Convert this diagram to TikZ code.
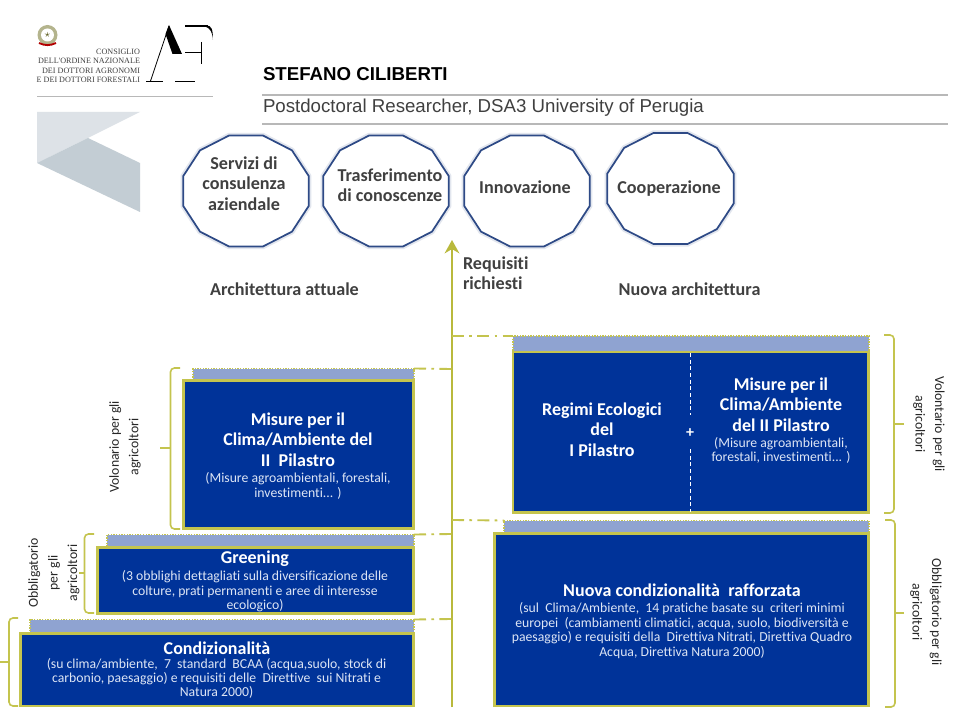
\documentclass[tikz,border=0pt]{standalone}
\usepackage{fontspec}
\setmainfont{Carlito}[Ligatures=CommonOff]
\newfontfamily\headfont{Liberation Sans}
\newfontfamily\logofont{Liberation Serif}
\usetikzlibrary{arrows.meta,shapes.geometric}
\definecolor{boxblue}{HTML}{003399}
\definecolor{bandblue}{HTML}{8FA3D1}
\definecolor{olive}{HTML}{C4C44E}
\definecolor{axisolive}{HTML}{B9B93C}
\definecolor{ink}{HTML}{404040}
\definecolor{subtxt}{HTML}{DDE5F5}
\definecolor{ringblue}{HTML}{2E4A86}
\definecolor{wedgelight}{HTML}{DDE2E7}
\definecolor{wedgedark}{HTML}{C3CDD4}
\newcommand{\fsz}[2]{\fontsize{#1}{#2}\selectfont}
\tikzset{
  x=0.75pt,y=-0.75pt,
  every node/.style={inner sep=0pt,outer sep=0pt},
  mainbox/.style={draw=olive,line width=2pt,fill=boxblue},
  bandbox/.style={draw=olive,densely dotted,line width=1pt,fill=bandblue},
  boxtitle/.style={text=white,align=center,font=\bfseries\fsz{13.5}{15.3}},
  boxbody/.style={text=subtxt,align=center,font=\fsz{10.3}{10.9}},
  boxbodytight/.style={text=subtxt,align=center,font=\fsz{10.3}{10.2}},
  toplabel/.style={text=ink,align=center,font=\bfseries\fsz{13.6}{15.3}},
  sidelabel/.style={text=black!85,align=center,font=\fsz{10.3}{14.7}},
  ring/.style={draw=ringblue,line width=1.3pt,fill=white,line join=round},
  ringglow/.style={draw=ringblue!14,line width=4pt,line join=round},
  axisline/.style={draw=axisolive,line width=2pt},
  dashlink/.style={draw=olive,line width=1.4pt,dash pattern=on 9pt off 4pt on 2pt off 4pt},
  bracket/.style={draw=olive,line width=1.2pt,rounded corners=3pt},
  rule/.style={draw=black!28,line width=1.3pt},
  logotxt/.style={text=black!75,align=right,anchor=east,font=\logofont\fsz{6.1}{6.9}},
}
\newcommand{\rectnode}[6]{%
  \pgfmathsetmacro{\rw}{(#4-#2)*0.75}\pgfmathsetmacro{\rh}{(#5-#3)*0.75}%
  \node[#6,minimum width=\rw pt,minimum height=\rh pt] (#1) at ({(#2+#4)/2},{(#3+#5)/2}) {};}
\newcommand{\ringshape}[4]{%
  \draw[ringglow] plot[samples at={15,45,...,345}] ({#1+#3*cos(\x)},{#2+#4*sin(\x)}) -- cycle;
  \draw[ring] plot[samples at={15,45,...,345}] ({#1+#3*cos(\x)},{#2+#4*sin(\x)}) -- cycle;}
\begin{document}
\begin{tikzpicture}
\useasboundingbox (0,0) rectangle (960,720);
\fill[white] (0,0) rectangle (960,720);

% --- logo block
\fill[wedgelight] (37,112) -- (140,112) -- (88,138) -- (37,163) -- cycle;
\fill[wedgedark] (37,163) -- (88,138) -- (140,163) -- (140,212) -- cycle;
\draw[rule,line width=0.7pt] (37,96.5) -- (213,96.5);
\node[logotxt] (l1) at (140,52) {CONSIGLIO};
\node[logotxt] (l2) at (140,61) {DELL'ORDINE NAZIONALE};
\node[logotxt] (l3) at (140,70.5) {DEI DOTTORI AGRONOMI};
\node[logotxt] (l4) at (140,79.5) {E DEI DOTTORI FORESTALI};
% emblem
\fill[olive!60!black!55] (47.5,35) circle (10);
\fill[white] (47.5,35) circle (6.5);
\node[text=olive!50!black,font=\fsz{8}{8}] (star) at (47.5,35) {$\star$};
\draw[red!70!black,line width=1.4pt] (39,43) to[bend right=25] (56,43);
% AF monogram
\draw[black,line width=0.6pt] (169,26) -- (150.5,81);
\fill[black] (169,25) -- (182,54) -- (172.5,54) -- (165.5,34) -- cycle;
\draw[black,line width=0.9pt] (146,81.5) -- (163,81.5) (175,81.5) -- (195,81.5);
\draw[black,line width=1pt] (185,26) -- (208,26);
\fill[black] (207,25.5) .. controls (211,26) and (213,28) .. (213,40) .. controls (212.5,32) and (210,28) .. (205,26.5) -- cycle;
\draw[black,line width=0.8pt] (185,52.5) -- (201,52.5);
\draw[black,line width=1.2pt] (201.5,42) -- (201.5,64);

% --- header
\node[anchor=west,text=black,font=\headfont\bfseries\fsz{14}{16}] (name) at (263,74) {STEFANO CILIBERTI};
\draw[rule] (262,95) -- (948,95);
\node[anchor=west,text=black!75,font=\headfont\fsz{14}{16}] (role) at (263,108) {Postdoctoral Researcher, DSA3 University of Perugia};
\draw[rule] (262,124) -- (948,124);

% --- rings
\ringshape{246}{191}{65}{57.5}
\ringshape{386}{191}{65}{57.5}
\ringshape{527}{191}{65}{57.5}
\ringshape{670.5}{188.5}{65.5}{57.5}
\node[toplabel] (r1) at (244,183.5) {Servizi di\\consulenza\\aziendale};
\node[toplabel] (r2) at (390,185.5) {Trasferimento\\di conoscenze};
\node[toplabel] (r3) at (525,187) {Innovazione};
\node[toplabel] (r4) at (669,189) {Cooperazione};

% --- central axis
\coordinate (axisbase) at (452,707);
\coordinate (axistop) at (452,240);
\draw[axisline,-{Stealth[length=10pt,width=11pt]}] (axisbase) -- (axistop);
\coordinate (ax1) at (452,336);
\coordinate (ax2) at (452,369);
\coordinate (ax3) at (452,520);
\coordinate (ax4) at (452,534);
\coordinate (ax5) at (452,619);

\node[toplabel,align=left,anchor=west] (req) at (463,273.5) {Requisiti\\richiesti};
\node[toplabel] (archA) at (284.5,289) {Architettura attuale};
\node[toplabel] (archN) at (689.5,289) {Nuova architettura};

% --- bands (behind the main boxes)
\rectnode{bandC}{30}{619.5}{414}{633}{bandbox}
\rectnode{bandG}{107}{534.5}{414}{547}{bandbox}
\rectnode{bandM}{193}{368.5}{414}{380}{bandbox}
\rectnode{bandR}{513}{336}{869}{352}{bandbox}
\rectnode{bandN}{504}{520.5}{869}{533}{bandbox}

% --- main boxes
\rectnode{boxC}{20.5}{633.5}{413.5}{706}{mainbox}
\rectnode{boxG}{97.5}{547.5}{413.5}{613.5}{mainbox}
\rectnode{boxM}{183.5}{380.5}{413.5}{528.5}{mainbox}
\rectnode{boxR}{513}{352}{868.5}{512.5}{mainbox}
\rectnode{boxN}{494.5}{533.5}{868.5}{706}{mainbox}

% --- dash-dot links
\draw[dashlink] (bandM.north east) -- (ax2);
\draw[dashlink] (bandG.north east) -- (ax4);
\draw[dashlink] (bandC.north east) -- (ax5);
\draw[dashlink] (ax1) -- (bandR.north west);
\draw[dashlink] (ax3) -- (bandN.north west);

% --- divider in the right box
\coordinate (divtop) at (690,353);
\coordinate (divup) at (690,415);
\coordinate (divlow) at (690,449);
\coordinate (divbot) at (690,512);
\draw[white,densely dashed,line width=0.7pt] (divtop) -- (divup);
\draw[white,densely dashed,line width=0.7pt] (divlow) -- (divbot);
\node[text=white,font=\bfseries\fsz{12}{14}] (plus) at (690,433) {+};

% --- box texts
\node[boxtitle] (tC) at (217,648) {Condizionalità};
\node[boxbodytight] (bC) at (216.5,678.5) {(su clima/ambiente,\ \ 7\ \ standard\ \ BCAA (acqua,suolo, stock di\\carbonio, paesaggio) e requisiti delle\ \ Direttive\ \ sui Nitrati e\\Natura 2000)};
\node[boxtitle] (tG) at (255,558.5) {Greening};
\node[boxbody] (bG) at (255,591.5) {(3 obblighi dettagliati sulla diversificazione delle\\colture, prati permanenti e aree di interesse\\ecologico)};
\node[boxtitle] (tM) at (298,439.5) {Misure per il\\Clima/Ambiente del\\II\ \ Pilastro};
\node[boxbody] (bM) at (298,486) {(Misure agroambientali, forestali,\\investimenti... )};
\node[boxtitle] (tR) at (602,429.5) {Regimi Ecologici\\del\\I Pilastro};
\node[boxtitle] (tR2) at (781,404.5) {Misure per il\\Clima/Ambiente\\del II Pilastro};
\node[boxbody] (bR2) at (781,450.5) {(Misure agroambientali,\\forestali, investimenti... )};
\node[boxtitle] (tN) at (682,590) {Nuova condizionalità\ \ rafforzata};
\node[boxbody] (bN) at (682,630.5) {(sul\ \ Clima/Ambiente,\ \ 14 pratiche basate su\ \ criteri minimi\\europei\ \ (cambiamenti climatici, acqua, suolo, biodiversità e\\paesaggio) e requisiti della\ \ Direttiva Nitrati, Direttiva Quadro\\Acqua, Direttiva Natura 2000)};

% --- brackets
\coordinate (bl1a) at (180,368); \coordinate (bl1b) at (180,529); \coordinate (bl1t) at (160,448);
\draw[bracket] (bl1a) -- (170.5,368) -- (170.5,529) -- (bl1b);
\draw[bracket,rounded corners=0pt] (bl1t) -- (170.5,448);
\coordinate (bl2a) at (94,534); \coordinate (bl2b) at (94,613); \coordinate (bl2t) at (79,573);
\draw[bracket] (bl2a) -- (84.5,534) -- (84.5,613) -- (bl2b);
\draw[bracket,rounded corners=0pt] (bl2t) -- (84.5,573);
\coordinate (bl3a) at (18,618); \coordinate (bl3b) at (18,706); \coordinate (bl3t) at (0,662);
\draw[bracket] (bl3a) -- (9,618) -- (9,706) -- (bl3b);
\draw[bracket,rounded corners=0pt] (bl3t) -- (9,662);
\coordinate (br1a) at (884,335); \coordinate (br1b) at (884,513); \coordinate (br1t) at (904,424);
\draw[bracket] (br1a) -- (894,335) -- (894,513) -- (br1b);
\draw[bracket,rounded corners=0pt] (br1t) -- (894,424);
\coordinate (br2a) at (885,520); \coordinate (br2b) at (885,707); \coordinate (br2t) at (904,613);
\draw[bracket] (br2a) -- (895,520) -- (895,707) -- (br2b);
\draw[bracket,rounded corners=0pt] (br2t) -- (895,613);

% --- side labels
\node[sidelabel,rotate=90] (sl1) at (125,447) {Volonario per gli\\agricoltori};
\node[sidelabel,rotate=90] (sl2) at (54,573) {Obbligatorio\\per gli\\agricoltori};
\node[sidelabel,rotate=-90] (sr1) at (929,424) {Volontario per gli\\agricoltori};
\node[sidelabel,rotate=-90] (sr2) at (926,612) {Obbligatorio per gli\\agricoltori};
\end{tikzpicture}
\end{document}
